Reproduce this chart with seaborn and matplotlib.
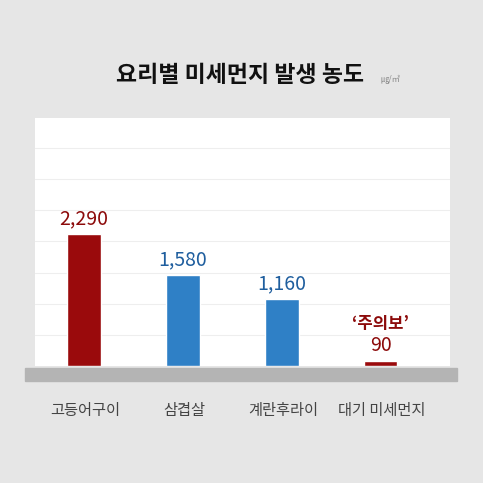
import matplotlib.pyplot as plt
import matplotlib.patches as mpatches
import seaborn as sns
import pandas as pd

categories = ['고등어구이', '삼겹살', '계란후라이', '대기 미세먼지']
values = [2290, 1580, 1160, 90]
value_labels = ['2,290', '1,580', '1,160', '90']
bar_colors = ['#9a0a0c', '#2f80c6', '#2f80c6', '#9a0a0c']
text_colors = ['#8c0a0a', '#1f5e9e', '#1f5e9e', '#8c0a0a']

sns.set_theme(style='white')
plt.rcParams['font.family'] = ['Noto Sans CJK KR', 'DejaVu Sans']

fig = plt.figure(figsize=(4.83, 4.83), dpi=100)
fig.patch.set_facecolor('#e6e6e6')
ax = fig.add_axes([0.072, 0.242, 0.859, 0.514])
ax.set_facecolor('white')

df = pd.DataFrame({'cat': categories, 'val': values})
sns.barplot(data=df, x='cat', y='val', hue='cat', palette=bar_colors,
            width=0.34, legend=False, ax=ax, saturation=1)
ax.set_xlim(-0.5, 3.7)
ax.set_ylim(0, 4300)
for y in range(540, 4300, 540):
    ax.axhline(y, color='#eeeeee', lw=0.8, zorder=0)
for i, (v, lab, c) in enumerate(zip(values, value_labels, text_colors)):
    ax.text(i, v + 80, lab, ha='center', va='bottom', fontsize=14,
            fontweight='medium', color=c)
ax.text(3, 90 + 480, '‘주의보’', ha='center', va='bottom', fontsize=12,
        fontweight='bold', color='#8c0a0a')
ax.set_xticks([])
ax.set_yticks([])
ax.set_xlabel('')
ax.set_ylabel('')
for s in ax.spines.values():
    s.set_visible(False)

# gray floor
fig.patches.append(mpatches.Rectangle((25 / 483, 1 - 381 / 483), 432 / 483, 13 / 483,
                                      transform=fig.transFigure, color='#b4b4b4'))
for i, cat in enumerate(categories):
    x = (85 + i * 99) / 483
    fig.text(x, 1 - 410 / 483, cat, ha='center', va='center', fontsize=11, color='#444444')

fig.text(240 / 483, 1 - 76 / 483, '요리별 미세먼지 발생 농도', ha='center', va='center',
         fontsize=16.5, fontweight='bold', color='#111111')
fig.text(381 / 483, 1 - 79 / 483, '㎍/㎥', ha='left', va='center', fontsize=6, color='#888888')

fig.savefig('out.png', dpi=100, facecolor=fig.get_facecolor())
